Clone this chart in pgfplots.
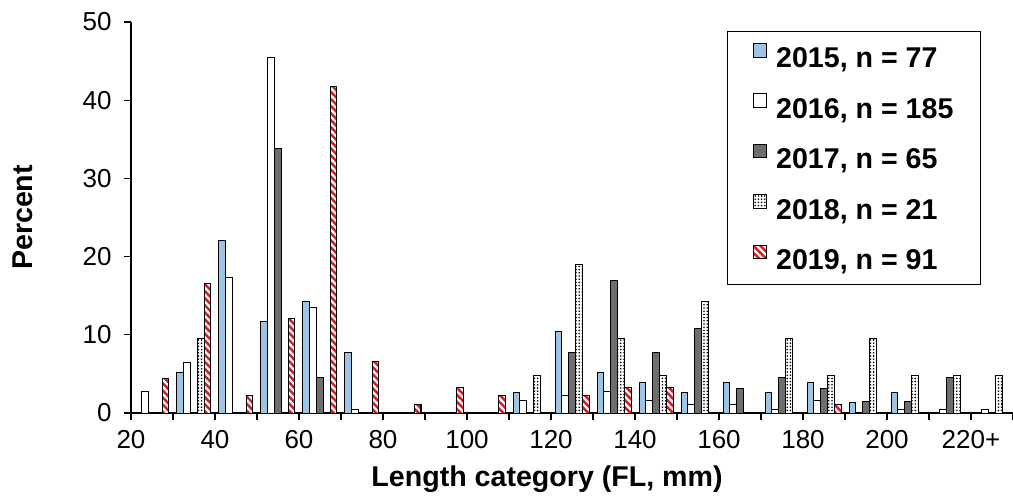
\documentclass[border=0pt]{standalone}
\usepackage{fontspec}
\setmainfont{Liberation Sans}
\usepackage{pgfplots}
\pgfplotsset{compat=1.18}
\usetikzlibrary{patterns.meta}
\definecolor{c15}{RGB}{157,195,230}
\definecolor{c17}{RGB}{110,110,110}
\definecolor{c19}{RGB}{215,30,40}
\begin{document}
\begin{tikzpicture}
\path[use as bounding box] (-65.5pt,-43.5pt) rectangle (441pt,206.5pt);
\begin{axis}[
  at={(0,0)}, anchor=south west,
  scale only axis, width=441pt, height=195.5pt,
  ybar=0pt, bar width=3.4pt,
  xmin=0, xmax=21, ymin=0, ymax=50,
  axis x line*=bottom, axis y line*=left,
  axis line style={line width=0.6pt},
  xtick={0,2,...,20},
  xticklabels={20,40,60,80,100,120,140,160,180,200,220+},
  minor xtick={1,3,...,21},
  ytick={0,10,...,50},
  tick align=outside, major tick length=3.3pt, minor tick length=3.3pt,
  tick style={black, line width=0.6pt},
  /pgf/number format/assume math mode=true,
  ticklabel style={font=\fontsize{13}{15}\selectfont},
  xticklabel style={yshift=-1.7pt},
  yticklabel style={xshift=-2.9pt},
  xlabel={Length category (FL, mm)},
  xlabel style={at={(axis description cs:0.4717,0)}, anchor=center, yshift=-33pt, font=\fontsize{14.3}{16}\selectfont\bfseries},
  ylabel={Percent},
  ylabel style={at={(axis description cs:-0.123,0.5)}, anchor=center, font=\fontsize{14.3}{16}\selectfont\bfseries},
  legend cell align=left,
  legend image code/.code={\draw[#1,line width=0.5pt] (0pt,0.6pt) rectangle (6.8pt,7.4pt);},
  legend style={at={(rel axis cs:0.6757,0.977)}, anchor=north west, draw=black, line width=0.6pt,
    font=\fontsize{14.3}{16}\selectfont\bfseries, inner xsep=12.5pt, inner ysep=5.7pt, row sep=10.8pt,
    column sep=3.5pt,
    nodes={inner sep=1pt, text height=10.5pt, text depth=1pt}},
]
\addplot[fill=c15, draw=black, line width=0.5pt] coordinates {
(1.5,5.2) (2.5,22.1) (3.5,11.7) (4.5,14.3) (5.5,7.8) (9.5,2.6) (10.5,10.4) (11.5,5.2)
(12.5,3.9) (13.5,2.6) (14.5,3.9) (15.5,2.6) (16.5,3.9) (17.5,1.3) (18.5,2.6)};
\addlegendentry{2015, n = 77}
\addplot[fill=white, draw=black, line width=0.5pt] coordinates {
(0.5,2.7) (1.5,6.5) (2.5,17.3) (3.5,45.4) (4.5,13.5) (5.5,0.5) (9.5,1.6) (10.5,2.2)
(11.5,2.7) (12.5,1.6) (13.5,1.1) (14.5,1.1) (15.5,0.5) (16.5,1.6) (18.5,0.5) (19.5,0.5) (20.5,0.5)};
\addlegendentry{2016, n = 185}
\addplot[fill=c17, draw=black, line width=0.5pt] coordinates {
(3.5,33.8) (4.5,4.6) (10.5,7.7) (11.5,16.9) (12.5,7.7) (13.5,10.8) (14.5,3.1) (15.5,4.6)
(16.5,3.1) (17.5,1.5) (18.5,1.5) (19.5,4.6)};
\addlegendentry{2017, n = 65}
\addplot[fill=white, draw=black, line width=0.5pt,
  postaction={pattern={Dots[distance=1.6pt,radius=0.45pt]}, pattern color=black}] coordinates {
(1.5,9.5) (9.5,4.8) (10.5,19.0) (11.5,9.5) (12.5,4.8) (13.5,14.3) (15.5,9.5) (16.5,4.8)
(17.5,9.5) (18.5,4.8) (19.5,4.8) (20.5,4.8)};
\addlegendentry{2018, n = 21}
\addplot[fill=c19, draw=black, line width=0.5pt,
  postaction={pattern={Lines[angle=-45,distance=2.5pt,line width=1.1pt]}, pattern color=white}] coordinates {
(0.5,4.4) (1.5,16.5) (2.5,2.2) (3.5,12.1) (4.5,41.8) (5.5,6.6) (6.5,1.1) (7.5,3.3) (8.5,2.2)
(10.5,2.2) (11.5,3.3) (12.5,3.3) (16.5,1.1)};
\addlegendentry{2019, n = 91}
\end{axis}
\end{tikzpicture}
\end{document}
